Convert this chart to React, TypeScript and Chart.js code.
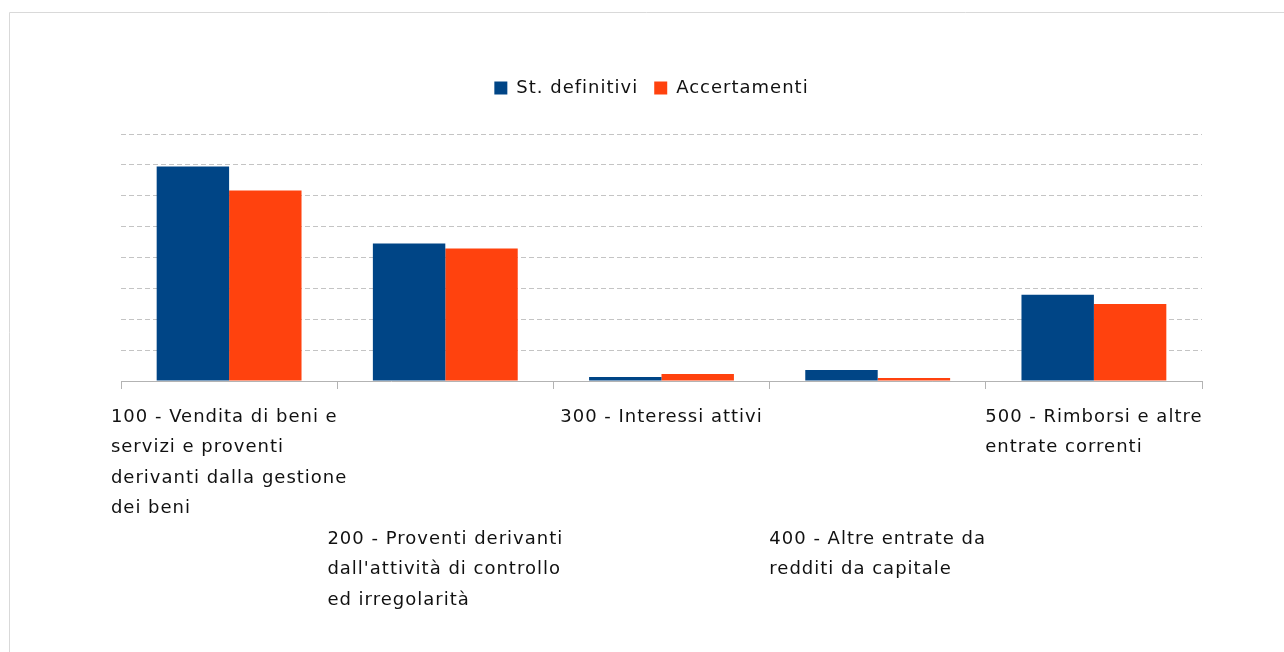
import React, { useEffect, useRef } from "react";
import { Chart, registerables } from "chart.js";

Chart.register(...registerables);

const categoryLines: string[][] = [
  ["100 - Vendita di beni e", "servizi e proventi", "derivanti dalla gestione", "dei beni"],
  ["200 - Proventi derivanti", "dall'attività di controllo", "ed irregolarità"],
  ["300 - Interessi attivi"],
  ["400 - Altre entrate da", "redditi da capitale"],
  ["500 - Rimborsi e altre", "entrate correnti"],
];
const categories: string[] = categoryLines.map((l) => l.join(" "));
const seriesNames: string[] = ["St. definitivi", "Accertamenti"];
const stDefinitivi: number[] = [6.95, 4.45, 0.13, 0.36, 2.79];
const accertamenti: number[] = [6.17, 4.29, 0.23, 0.1, 2.49];
const seriesColors: string[] = ["#004586", "#ff420e"];

const FONT = '"DejaVu Sans", sans-serif';

const setSpacing = (chart: any) => {
  try {
    (chart.ctx as any).letterSpacing = "1px";
  } catch (e) {}
};

const frameAndLabels = {
  id: "frameAndLabels",
  beforeLayout(chart: any) {
    setSpacing(chart);
  },
  beforeDraw(chart: any) {
    setSpacing(chart);
    const ctx = chart.ctx;
    ctx.save();
    ctx.strokeStyle = "#d9d9d9";
    ctx.lineWidth = 1;
    ctx.beginPath();
    ctx.moveTo(9.5, chart.height);
    ctx.lineTo(9.5, 12.5);
    ctx.lineTo(chart.width, 12.5);
    ctx.stroke();
    ctx.restore();
  },
  afterDraw(chart: any) {
    const ctx = chart.ctx;
    const xs = chart.scales.x;
    ctx.save();
    ctx.letterSpacing = "1px";
    ctx.font = "18px " + FONT;
    ctx.fillStyle = "#111111";
    ctx.textAlign = "left";
    ctx.textBaseline = "middle";
    const lineH = 30.5;
    categoryLines.forEach((lines, i) => {
      const cx = xs.getPixelForValue(i);
      const w = Math.max(...lines.map((l) => ctx.measureText(l).width));
      const startLine = i % 2 === 0 ? 0 : 4;
      const y0 = xs.bottom + 28 + startLine * lineH;
      lines.forEach((l, j) => ctx.fillText(l, cx - w / 2, y0 + j * lineH));
    });
    ctx.restore();
  },
};

export default function App() {
  const ref = useRef<HTMLCanvasElement>(null);
  useEffect(() => {
    if (!ref.current) return;
    const chart = new Chart(ref.current, {
      type: "bar",
      data: {
        labels: categories,
        datasets: [
          {
            label: seriesNames[0],
            data: stDefinitivi,
            backgroundColor: seriesColors[0],
            categoryPercentage: 0.67,
            barPercentage: 1.0,
          },
          {
            label: seriesNames[1],
            data: accertamenti,
            backgroundColor: seriesColors[1],
            categoryPercentage: 0.67,
            barPercentage: 1.0,
          },
        ],
      },
      options: {
        animation: false,
        responsive: false,
        events: [],
        layout: { padding: { top: 63, left: 101, right: 82, bottom: 263 } },
        plugins: {
          tooltip: { enabled: false },
          legend: {
            position: "top",
            labels: {
              boxWidth: 13,
              boxHeight: 13,
              padding: 16,
              color: "#111111",
              font: { family: FONT, size: 18 },
            },
          },
          subtitle: {
            display: true,
            text: " ",
            font: { size: 10 },
            padding: { top: 0, bottom: 15 },
            weight: 500,
          } as any,
        },
        scales: {
          x: {
            offset: true,
            grid: {
              offset: true,
              drawOnChartArea: false,
              drawTicks: true,
              tickLength: 8,
              color: "#b3b3b3",
            },
            border: { display: true, color: "#b3b3b3", width: 1 },
            ticks: { display: false },
          },
          y: {
            min: 0,
            max: 8,
            ticks: { display: false, stepSize: 1 },
            grid: { color: "#c4c4c4", drawTicks: false },
            border: { display: false, dash: [5, 3] },
            afterFit: (scale: any) => {
              scale.width = 20;
            },
          },
        },
      },
      plugins: [frameAndLabels],
    });
    return () => chart.destroy();
  }, []);
  return (
    <canvas
      ref={ref}
      width={1284}
      height={652}
      style={{ position: "fixed", left: 0, top: 0, width: 1284, height: 652 }}
    />
  );
}
